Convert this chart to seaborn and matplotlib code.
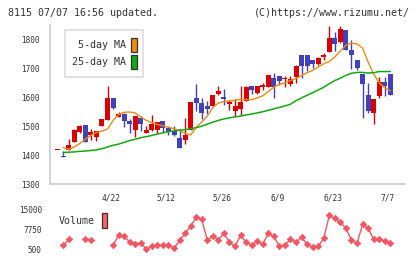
import numpy as np
import pandas as pd
import matplotlib
matplotlib.use("Agg")
import matplotlib.pyplot as plt
import matplotlib.transforms as mtransforms
from matplotlib.patches import Rectangle
import seaborn as sns

# ---------------- data ----------------
opens = [1416, 1396, 1417, 1446, 1480, 1503, 1471, 1463, 1501, 1523,
         1598, 1532, 1542, 1517, 1486, 1529, 1476, 1486, 1487, 1517,
         1493, 1485, 1460, 1452, 1486, 1598, 1579, 1569, 1569, 1610,
         1600, 1576, 1553, 1561, 1587, 1638, 1615, 1636, 1636, 1668,
         1672, 1662, 1645, 1670, 1745, 1745, 1728, 1714, 1741, 1756,
         1806, 1791, 1831, 1764, 1728, 1679, 1607, 1546, 1603, 1653, 1679]
closes = [1416, 1394, 1436, 1486, 1501, 1444, 1480, 1482, 1524, 1598,
          1563, 1542, 1517, 1507, 1536, 1506, 1486, 1506, 1513, 1492,
          1480, 1469, 1425, 1469, 1582, 1579, 1545, 1559, 1607, 1621,
          1594, 1584, 1569, 1583, 1636, 1624, 1638, 1641, 1676, 1636,
          1656, 1665, 1662, 1707, 1707, 1707, 1714, 1737, 1743, 1806,
          1785, 1837, 1762, 1746, 1701, 1645, 1553, 1593, 1653, 1639, 1608]
highs = [1416, 1414, 1457, 1490, 1503, 1505, 1490, 1484, 1526, 1638,
         1598, 1550, 1546, 1524, 1536, 1534, 1500, 1538, 1515, 1519,
         1502, 1499, 1490, 1529, 1582, 1647, 1598, 1586, 1607, 1638,
         1628, 1590, 1594, 1638, 1638, 1640, 1640, 1649, 1678, 1684,
         1674, 1672, 1672, 1710, 1747, 1747, 1730, 1740, 1753, 1848,
         1827, 1848, 1833, 1797, 1728, 1681, 1649, 1595, 1671, 1671, 1681]
lows = [1416, 1394, 1417, 1444, 1478, 1444, 1452, 1450, 1499, 1523,
        1559, 1532, 1498, 1477, 1462, 1484, 1476, 1484, 1478, 1480,
        1470, 1466, 1425, 1438, 1486, 1552, 1524, 1543, 1569, 1608,
        1575, 1555, 1534, 1538, 1587, 1610, 1610, 1625, 1634, 1597,
        1641, 1636, 1638, 1650, 1666, 1690, 1700, 1710, 1730, 1756,
        1759, 1789, 1762, 1699, 1694, 1529, 1544, 1509, 1597, 1603, 1608]
ma5 = [np.nan, 1426, 1420, 1428, 1440, 1455, 1468, 1478, 1483, 1490,
       1520, 1540, 1548, 1549, 1546, 1532, 1520, 1512, 1506, 1501,
       1496, 1491, 1485, 1475, 1470, 1495, 1515, 1535, 1565, 1580,
       1585, 1587, 1590, 1592, 1592, 1592, 1598, 1605, 1620, 1635,
       1645, 1650, 1658, 1665, 1675, 1685, 1693, 1705, 1716, 1724,
       1740, 1760, 1780, 1787, 1785, 1770, 1722, 1680, 1650, 1633, 1622]
ma25 = [np.nan, 1409, 1410, 1411, 1413, 1414, 1416, 1418, 1422, 1428,
        1434, 1438, 1444, 1450, 1455, 1460, 1464, 1468, 1473, 1477,
        1481, 1484, 1486, 1488, 1491, 1495, 1500, 1507, 1514, 1520,
        1525, 1529, 1532, 1535, 1539, 1542, 1546, 1550, 1555, 1560,
        1565, 1570, 1576, 1588, 1598, 1607, 1616, 1625, 1635, 1647,
        1658, 1666, 1676, 1683, 1686, 1686, 1684, 1685, 1689, 1689, 1689]
volume = [np.nan, 1829, 4004, np.nan, np.nan, 4004, 3763, np.nan, np.nan, np.nan,
          1829, 5455, 5092, 3038, 2192, 2796, 379, 1467, 1829, 1829,
          1829, 742, 3642, 6180, 8717, 11980, 11255, 3642, 5092, 3884,
          6180, 2917, 1467, 5455, 2917, 1829, 3280, 2192, 6180, 5092,
          1467, 1829, 4125, 2917, 4730, 2192, 1105, 1467, 4367, 12705,
          11617, 10167, 7992, 3642, 2555, 9442, 7992, 4004, 4004, 3280, 2675]
date_labels = ["4/22", "5/12", "5/26", "6/9", "6/23", "7/7"]
date_label_pos = [10, 20, 30, 40, 50, 60]
price_ticks = [1300, 1400, 1500, 1600, 1700, 1800]
vol_ticks = [500, 7750, 15000]
vol_tick_labels = ["500", "7750", "15000"]

df = pd.DataFrame({"idx": np.arange(len(opens)), "open": opens, "close": closes,
                   "high": highs, "low": lows, "ma5": ma5, "ma25": ma25,
                   "volume": volume})

# ---------------- style ----------------
sns.set_theme(style="white")
plt.rcParams['font.family'] = ['DejaVu Sans Mono', 'DejaVu Sans']

W, H = 420, 259
fig = plt.figure(figsize=(W / 100, H / 100), dpi=100)
fig.patch.set_facecolor("white")


def rect(x0, y0, x1, y1):
    return [x0 / W, 1 - y1 / H, (x1 - x0) / W, (y1 - y0) / H]


TXT = "#333333"
GRID = "#cccccc"
RED = "#dd0000"
BLUE = "#4141bd"

ax = fig.add_axes(rect(50, 25, 405, 184))
axv = fig.add_axes(rect(50, 205, 405, 252), sharex=ax)

xlim = (-1.37, 62.65)

# ---------------- candles ----------------
up = df["close"] >= df["open"]
cols = np.where(up, RED, BLUE)
ax.vlines(df["idx"], df["low"], df["high"], colors=cols, lw=1, zorder=2)
body_bottom = np.minimum(df["open"], df["close"])
body_h = np.maximum(np.abs(df["close"] - df["open"]), 3.5)
ax.bar(df["idx"], body_h, bottom=body_bottom, width=0.9, color=cols,
       linewidth=0, zorder=3)

# moving averages
sns.lineplot(data=df, x="idx", y="ma5", ax=ax, color="#f08a10", lw=1, zorder=4)
sns.lineplot(data=df, x="idx", y="ma25", ax=ax, color="#12a812", lw=1.1, zorder=4)

ax.set_xlim(*xlim)
ax.set_ylim(1300, 1850)
ax.set_xlabel("")
ax.set_ylabel("")
ax.set_yticks(price_ticks)
ax.set_yticklabels([str(t) for t in price_ticks], fontsize=5.6, color=TXT)
ax.set_xticks(np.linspace(xlim[0], xlim[1], 12))
ax.tick_params(axis="x", labelbottom=False, direction="inout", length=5,
               width=1, color=GRID)
ax.tick_params(axis="y", direction="inout", length=6.5, width=1, color=GRID,
               pad=4.5)
for s in ["top", "right"]:
    ax.spines[s].set_visible(False)
for s in ["left", "bottom"]:
    ax.spines[s].set_color(GRID)
    ax.spines[s].set_linewidth(1.2)
ax.set_facecolor("white")

# date labels
tr = mtransforms.blended_transform_factory(ax.transData, fig.transFigure)
for lab, pos in zip(date_labels, date_label_pos):
    ax.text(pos - 0.4, 1 - 198 / H, lab, transform=tr, ha="center", va="center",
            fontsize=5.7, color=TXT)

# ---------------- volume ----------------
VCOL = "#f45560"
axv.plot(df["idx"], df["volume"], color=VCOL, lw=1, zorder=2)
sns.scatterplot(data=df, x="idx", y="volume", ax=axv, marker="D", s=11,
                color=VCOL, edgecolor=VCOL, linewidth=0.5, zorder=3)
axv.set_ylim(500 - 3 * 362.5, 15000 + 4 * 362.5)
axv.set_xlim(*xlim)
axv.set_yticks(vol_ticks)
axv.set_yticklabels(vol_tick_labels, fontsize=5.6, color=TXT)
axv.tick_params(axis="y", length=0, pad=6)
axv.tick_params(axis="x", length=0, labelbottom=False)
axv.set_xlabel("")
axv.set_ylabel("")
for s in axv.spines.values():
    s.set_visible(False)
axv.set_facecolor("white")
axv.patch.set_alpha(0)

# ---------------- header texts ----------------
fig.text(8 / W, 1 - 12.5 / H, "8115 07/07 16:56 updated.", ha="left",
         va="center", fontsize=7.2, color=TXT)
fig.text(410 / W, 1 - 12.5 / H, "(C)https://www.rizumu.net/", ha="right",
         va="center", fontsize=7.2, color=TXT)


# ---------------- legends ----------------
def frect(x0, y0, x1, y1, **kw):
    r = Rectangle((x0 / W, 1 - y1 / H), (x1 - x0) / W, (y1 - y0) / H,
                  transform=fig.transFigure, **kw)
    fig.add_artist(r)


frect(65, 30, 143, 77, facecolor="white", edgecolor="#dddddd", lw=1.2, zorder=10)
frect(131.3, 37.7, 137.3, 51.7, facecolor="#f08a10", edgecolor="#333333", lw=0.9, zorder=11)
frect(131.3, 55, 137.3, 69, facecolor="#12a812", edgecolor="#333333", lw=0.9, zorder=11)
fig.text(126.5 / W, 1 - 45 / H, "5-day MA", ha="right", va="center",
         fontsize=7.2, color=TXT, zorder=12)
fig.text(126.5 / W, 1 - 62 / H, "25-day MA", ha="right", va="center",
         fontsize=7.2, color=TXT, zorder=12)

fig.text(59 / W, 1 - 221 / H, "Volume", ha="left", va="center",
         fontsize=7.1, color=TXT)
frect(101.7, 213, 107.3, 228, facecolor="#ff6060", edgecolor="#333333", lw=0.9, zorder=11)

fig.savefig("out.png", dpi=100, facecolor="white")
